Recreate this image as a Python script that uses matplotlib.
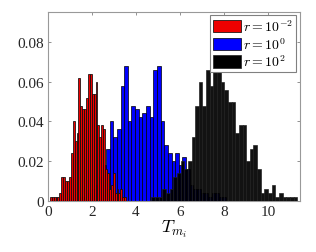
import numpy as np
import matplotlib
matplotlib.use("Agg")
import matplotlib.pyplot as plt

plt.rcParams["mathtext.fontset"] = "cm"
plt.rcParams["font.family"] = ["Liberation Serif", "DejaVu Serif"]

# relative frequencies, 40 bins per series
red_start, red_width = 0.08, 0.08675
red_vals = [0.002, 0.002, 0.002, 0.002, 0.002, 0.004, 0.012, 0.012, 0.010, 0.010,
            0.012, 0.024, 0.040, 0.030, 0.034, 0.062, 0.048, 0.046, 0.046, 0.052,
            0.064, 0.064, 0.054, 0.054, 0.060, 0.038, 0.032, 0.038, 0.036, 0.016,
            0.014, 0.006, 0.008, 0.014, 0.004, 0.006, 0.004, 0.006, 0.002, 0.002]

blue_start, blue_width = 1.476, 0.1655
blue_vals = [0.002, 0.002, 0.004, 0.006, 0.008, 0.012, 0.018, 0.026, 0.040, 0.032,
             0.036, 0.058, 0.068, 0.040, 0.048, 0.046, 0.042, 0.044, 0.048, 0.042,
             0.066, 0.068, 0.040, 0.028, 0.024, 0.020, 0.024, 0.018, 0.022, 0.016,
             0.008, 0.006, 0.006, 0.004, 0.004, 0.002, 0.004, 0.004, 0.002, 0.002]

black_start, black_width = 4.70, 0.16575
black_vals = [0.002, 0.002, 0.002, 0.006, 0.004, 0.006, 0.012, 0.014, 0.020, 0.016,
              0.020, 0.032, 0.048, 0.060, 0.048, 0.066, 0.058, 0.066, 0.066, 0.060,
              0.056, 0.050, 0.050, 0.034, 0.038, 0.038, 0.020, 0.026, 0.028, 0.016,
              0.004, 0.006, 0.004, 0.008, 0.002, 0.004, 0.002, 0.002, 0.002, 0.002]

labels = [r"$r = 10^{-2}$", r"$r = 10^{0}$", r"$r = 10^{2}$"]


def edges(start, width, n):
    return start + width * np.arange(n)


fig = plt.figure(figsize=(3.16, 2.53), dpi=100)
ax = fig.add_axes([0.152, 0.2016, 0.797, 0.747])

hb = ax.bar(edges(blue_start, blue_width, len(blue_vals)), blue_vals, width=blue_width,
            align="edge", color="#0000ff", edgecolor="k", linewidth=0.5, zorder=2)
hk = ax.bar(edges(black_start, black_width, len(black_vals)), black_vals, width=black_width,
            align="edge", color="k", alpha=0.93, edgecolor="0.12", linewidth=0.5, zorder=3)
hr = ax.bar(edges(red_start, red_width, len(red_vals)), red_vals, width=red_width,
            align="edge", color="#ee0000", edgecolor="0.05", linewidth=0.55, zorder=4)

ax.set_xlim(0, 11.45)
ax.set_ylim(0, 0.095)
ax.set_xticks([0, 2, 4, 6, 8, 10])
ax.set_yticks([0, 0.02, 0.04, 0.06, 0.08])
ax.set_yticklabels(["0", "0.02", "0.04", "0.06", "0.08"])
ax.tick_params(direction="in", length=2.5, width=0.6, top=True, right=True,
               labelsize=11, labelcolor="0.15", color="0.5", pad=3)
for s in ax.spines.values():
    s.set_color("0.6")
    s.set_linewidth(0.8)

ax.set_xlabel(r"$T_{m_i}$", fontsize=13, labelpad=0)

leg = ax.legend([hr, hb, hk], labels, loc="upper right", fontsize=10,
                fancybox=False, framealpha=1, edgecolor="0.5", borderpad=0.2,
                handlelength=2.0, handleheight=1.0, handletextpad=0.2,
                labelspacing=0.15, borderaxespad=0.25)
leg.get_frame().set_linewidth(0.8)
for h in leg.legend_handles:
    h.set_alpha(1)

fig.savefig("out.png", dpi=100)
